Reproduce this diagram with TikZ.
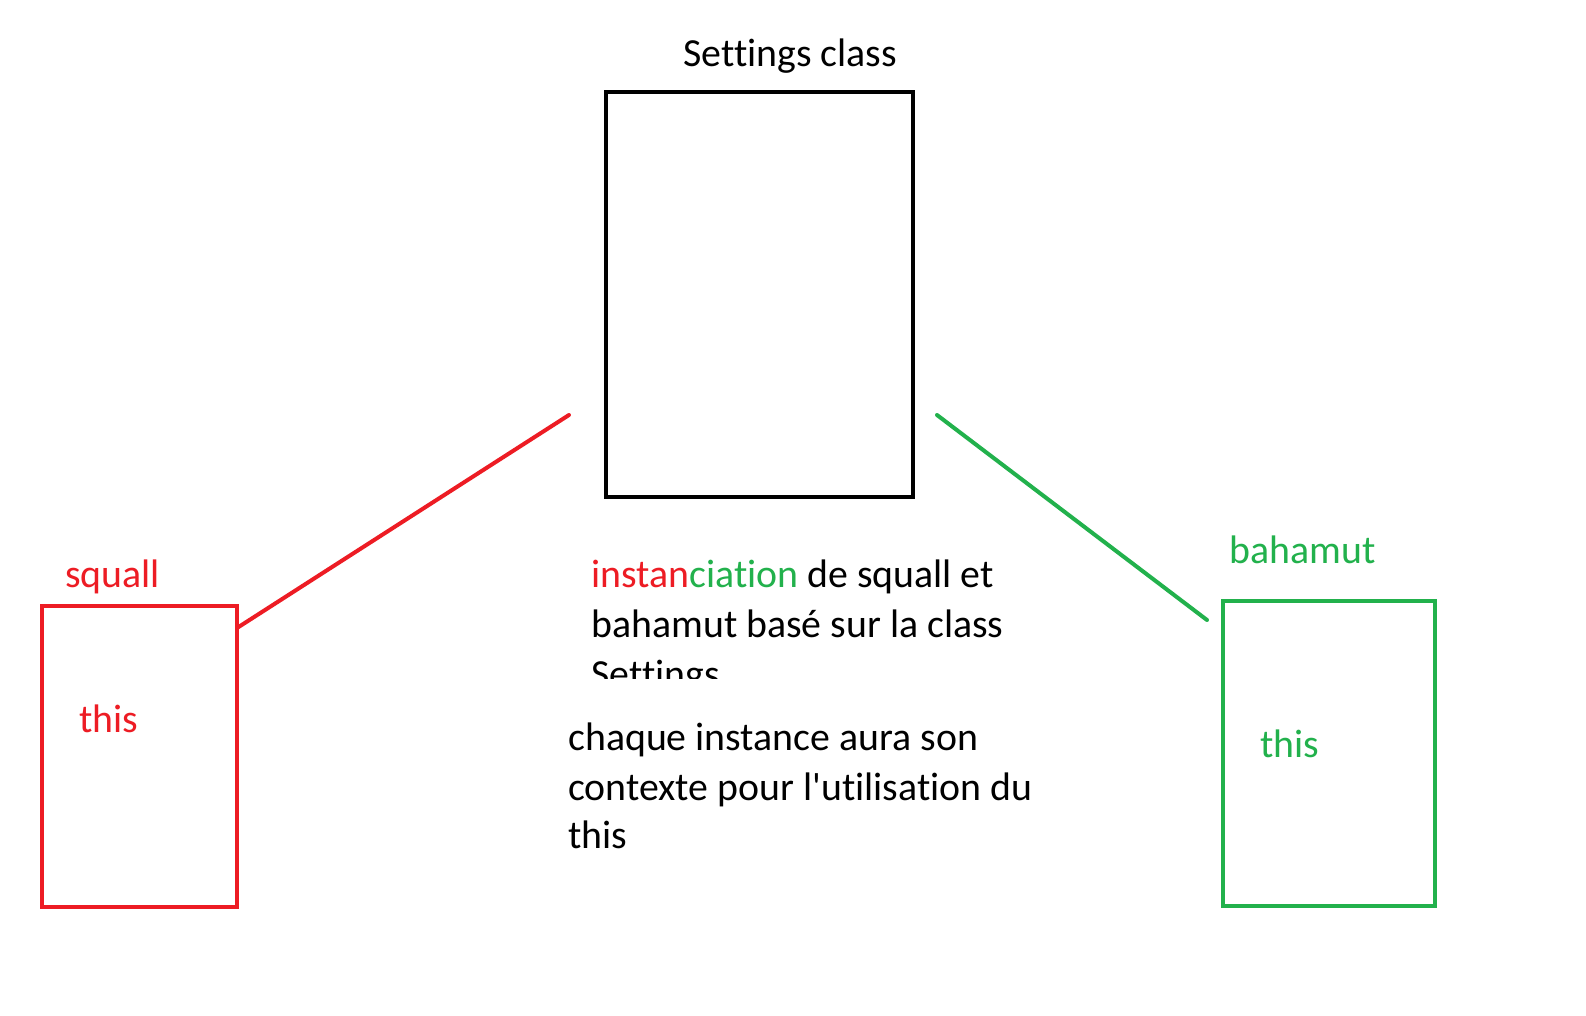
\documentclass[tikz,border=0pt]{standalone}
\usepackage{fontspec}
\setmainfont[Ligatures={NoCommon}]{Carlito}
\definecolor{sqred}{HTML}{ED1C24}
\definecolor{bgreen}{HTML}{22B14C}
\begin{document}
\begin{tikzpicture}[x=0.5pt,y=-0.5pt,
  every node/.style={font=\fontsize{19.9}{25}\selectfont, inner sep=0pt},
  txt/.style={anchor=base west},
  classbox/.style={draw, line width=2.3pt, rectangle, anchor=north west, inner sep=0pt, outer sep=0pt},
  link/.style={line width=2pt, line cap=round}]
\useasboundingbox[fill=white] (0,0) rectangle (1586,1016);
% boxes
\node[classbox, draw=black, minimum width=307*0.5pt, minimum height=405*0.5pt] (settings) at (606,92) {};
\node[classbox, draw=sqred, minimum width=195*0.5pt, minimum height=301*0.5pt] (squall) at (42,606) {};
\node[classbox, draw=bgreen, minimum width=212*0.5pt, minimum height=305*0.5pt] (bahamut) at (1223,601) {};
% titles
\node[txt] (tset) at (683,67) {Settings class};
\node[txt, text=sqred] (tsq) at (65,587) {squall};
\node[txt, text=sqred] (thsq) at (79,732) {this};
\node[txt, text=bgreen] (tbh) at (1229,563) {bahamut};
\node[txt, text=bgreen] (thbh) at (1260,757) {this};
% connectors
\coordinate (r0) at (squall.north east |- 0,628);
\coordinate (r1) at (569,415);
\coordinate (g0) at (937,415);
\coordinate (g1) at (1207,620);
\draw[link, draw=sqred] (r0) -- (r1);
\draw[link, draw=bgreen] (g0) -- (g1);
% middle text
\node[txt] (m1) at (591,587) {\textcolor{sqred}{instan}\textcolor{bgreen}{ciation} de squall et};
\node[txt] (m2) at (591,637) {bahamut basé sur la class};
\begin{scope}
\clip (560,600) rectangle (1100,678);
\node[txt] (m3) at (591,687) {Settings};
\end{scope}
\node[txt] (c1) at (568,750) {chaque instance aura son};
\node[txt] (c2) at (568,800) {contexte pour l\textquotesingle utilisation du};
\node[txt] (c3) at (568,848) {this};
\end{tikzpicture}
\end{document}
